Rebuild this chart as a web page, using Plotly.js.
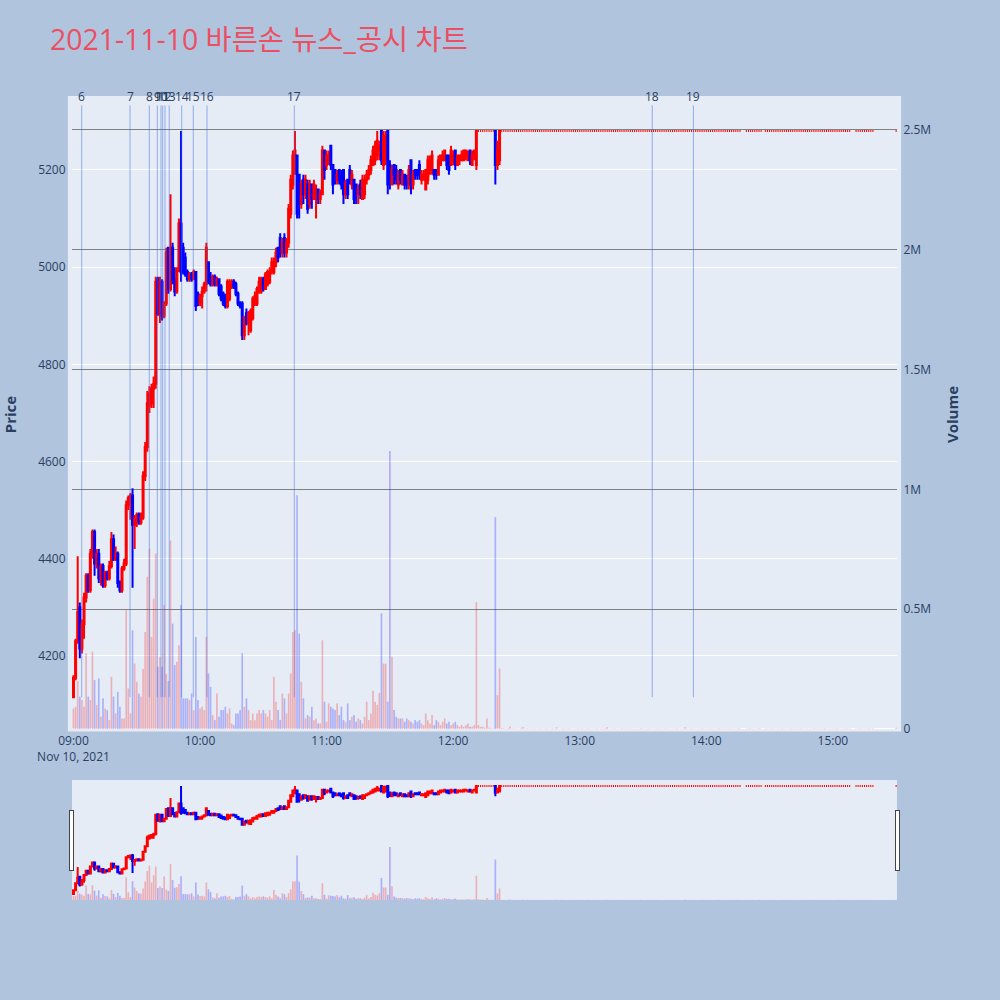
<!DOCTYPE html>
<html>
<head>
<meta charset="utf-8">
<script src="https://cdn.plot.ly/plotly-3.0.1.min.js"></script>
<style>html,body{margin:0;padding:0;background:#B0C4DE;}</style>
</head>
<body>
<div id="chart" style="width:1000px;height:1000px;"></div>
<script>
// ---------------- data ----------------
const tradeDate = '2021-11-10';
const chartTitle = '2021-11-10 바른손 뉴스_공시 차트';

// minute candles (HH:MM) with price movement
const minuteTimes = [
'09:00','09:01','09:02','09:03','09:04','09:05','09:06','09:07','09:08','09:09',
'09:10','09:11','09:12','09:13','09:14','09:15','09:16','09:17','09:18','09:19',
'09:20','09:21','09:22','09:23','09:24','09:25','09:26','09:27','09:28','09:29',
'09:30','09:31','09:32','09:33','09:34','09:35','09:36','09:37','09:38','09:39',
'09:40','09:41','09:42','09:43','09:44','09:45','09:46','09:47','09:48','09:49',
'09:50','09:51','09:52','09:53','09:54','09:55','09:56','09:57','09:58','09:59',
'10:00','10:01','10:02','10:03','10:04','10:05','10:06','10:07','10:08','10:09',
'10:10','10:11','10:12','10:13','10:14','10:15','10:16','10:17','10:18','10:19',
'10:20','10:21','10:22','10:23','10:24','10:25','10:26','10:27','10:28','10:29',
'10:30','10:31','10:32','10:33','10:34','10:35','10:36','10:37','10:38','10:39',
'10:40','10:41','10:42','10:43','10:44','10:45','10:46','10:47','10:48','10:49',
'10:50','10:51','10:52','10:53','10:54','10:55','10:56','10:57','10:58','10:59',
'11:00','11:01','11:02','11:03','11:04','11:05','11:06','11:07','11:08','11:09',
'11:10','11:11','11:12','11:13','11:14','11:15','11:16','11:17','11:18','11:19',
'11:20','11:21','11:22','11:23','11:24','11:25','11:26','11:27','11:28','11:29',
'11:30','11:31','11:32','11:33','11:34','11:35','11:36','11:37','11:38','11:39',
'11:40','11:41','11:42','11:43','11:44','11:45','11:46','11:47','11:48','11:49',
'11:50','11:51','11:52','11:53','11:54','11:55','11:56','11:57','11:58','11:59',
'12:00','12:01','12:02','12:03','12:04','12:05','12:06','12:07','12:08','12:09',
'12:10','12:11','12:20','12:21','12:22'
];
const openPrices = [
4115,4155,4230,4300,4215,4265,4320,4365,4335,4410,
4455,4390,4410,4360,4385,4345,4370,4360,4385,4440,
4400,4410,4350,4335,4380,4390,4510,4520,4530,4470,
4480,4490,4475,4485,4570,4630,4715,4720,4750,4760,
4975,4905,4970,4900,4925,5040,4955,5040,4975,4950,
4995,5090,5040,5020,4990,4975,4985,4975,4990,4945,
4925,4940,4950,4965,5010,4980,4965,4980,4965,4975,
4960,4945,4940,4920,4935,4960,4970,4965,4945,4925,
4925,4860,4905,4885,4870,4895,4925,4925,4950,4950,
4975,4955,4965,4970,4990,4990,5010,5040,5060,5030,
5060,5030,5050,5110,5170,5200,5230,5190,5130,5180,
5150,5170,5130,5170,5140,5140,5160,5140,5150,5240,
5210,5220,5250,5210,5200,5180,5200,5190,5200,5150,
5180,5200,5170,5180,5170,5150,5170,5140,5150,5180,
5190,5200,5210,5220,5230,5240,5280,5210,5220,5280,
5210,5170,5210,5200,5170,5200,5170,5190,5180,5170,
5220,5170,5200,5200,5210,5180,5180,5160,5180,5200,
5200,5200,5200,5190,5210,5220,5220,5230,5230,5210,
5220,5240,5210,5220,5220,5220,5230,5220,5240,5210,
5230,5210,5280,5210,5220
];
const highPrices = [
4160,4235,4405,4310,4275,4330,4370,4370,4420,4460,
4460,4420,4420,4390,4390,4375,4375,4395,4455,4450,
4425,4415,4355,4385,4400,4520,4530,4535,4545,4490,
4495,4495,4495,4580,4640,4745,4755,4760,4775,4980,
4980,4980,4975,4930,5040,5040,5150,5050,5000,5000,
5100,5280,5050,5030,4995,4990,4990,4995,4990,4950,
4945,4960,4970,5050,5010,4990,4985,4985,4980,4975,
4965,4950,4945,4975,4975,4975,4975,4970,4950,4930,
4930,4900,4915,4910,4915,4940,4950,4960,4980,4980,
4980,4990,4995,5000,5020,5020,5040,5040,5070,5060,
5070,5060,5130,5190,5240,5280,5230,5190,5180,5190,
5190,5180,5180,5170,5180,5170,5160,5160,5250,5240,
5240,5240,5250,5210,5200,5200,5200,5200,5200,5180,
5180,5210,5200,5180,5170,5170,5180,5190,5190,5200,
5210,5230,5250,5260,5280,5260,5280,5280,5280,5280,
5220,5210,5210,5210,5200,5200,5200,5190,5190,5210,
5220,5200,5200,5200,5220,5200,5200,5200,5230,5230,
5240,5200,5200,5230,5230,5240,5240,5230,5230,5250,
5240,5240,5230,5230,5240,5240,5240,5240,5240,5240,
5240,5280,5280,5260,5280
];
const lowPrices = [
4115,4150,4225,4195,4205,4235,4310,4330,4330,4400,
4365,4380,4350,4345,4340,4340,4355,4355,4380,4395,
4395,4340,4330,4330,4375,4385,4500,4480,4340,4420,
4465,4470,4470,4480,4560,4620,4700,4710,4710,4750,
4900,4885,4890,4895,4920,4945,4950,4965,4940,4945,
4990,4970,4985,4980,4970,4970,4970,4975,4910,4920,
4920,4915,4945,4950,4965,4960,4960,4960,4960,4940,
4930,4920,4915,4915,4930,4955,4955,4940,4920,4915,
4850,4850,4880,4860,4865,4890,4920,4920,4945,4945,
4950,4955,4960,4965,4985,4985,5000,5010,5020,5020,
5020,5020,5040,5100,5160,5190,5100,5100,5120,5130,
5140,5110,5120,5120,5140,5100,5130,5130,5150,5180,
5200,5210,5200,5150,5170,5170,5170,5160,5130,5140,
5140,5170,5160,5130,5130,5130,5140,5140,5140,5170,
5180,5190,5210,5210,5220,5220,5210,5200,5210,5150,
5160,5170,5170,5170,5160,5170,5170,5160,5160,5160,
5150,5160,5180,5180,5180,5170,5180,5160,5170,5190,
5190,5180,5180,5190,5210,5220,5220,5200,5190,5210,
5210,5200,5210,5210,5220,5220,5220,5220,5210,5210,
5220,5200,5170,5200,5210
];
const closePrices = [
4155,4230,4290,4215,4265,4320,4365,4335,4410,4455,
4390,4410,4360,4385,4345,4370,4360,4385,4440,4400,
4410,4350,4335,4380,4390,4510,4525,4530,4470,4480,
4490,4475,4485,4570,4630,4720,4740,4750,4760,4970,
4905,4970,4900,4925,5030,4955,5040,4975,4950,4995,
5090,4990,4990,4985,4975,4985,4975,4990,4920,4925,
4940,4950,4965,5040,4970,4965,4980,4965,4975,4945,
4935,4925,4920,4970,4965,4970,4960,4945,4925,4920,
4860,4895,4885,4905,4910,4935,4940,4955,4970,4975,
4955,4985,4990,4990,5010,5010,5030,5020,5030,5050,
5030,5050,5120,5180,5230,5240,5110,5130,5170,5150,
5180,5120,5170,5140,5170,5160,5140,5150,5240,5200,
5230,5230,5210,5170,5180,5190,5180,5170,5150,5170,
5150,5180,5190,5140,5150,5160,5150,5180,5180,5190,
5200,5220,5240,5250,5260,5250,5220,5270,5270,5170,
5180,5200,5190,5180,5190,5180,5190,5170,5170,5200,
5170,5190,5190,5190,5190,5190,5190,5200,5220,5220,
5230,5190,5190,5220,5230,5230,5240,5210,5200,5240,
5230,5210,5230,5230,5230,5240,5240,5230,5220,5230,
5240,5280,5210,5240,5280
];
// volume in thousand shares
const volumeK = [
86,93,200,135,121,93,316,135,121,323,
204,100,211,51,128,86,79,37,218,135,
65,155,93,44,44,496,169,65,412,273,
197,148,135,250,405,635,753,384,544,732,
260,300,260,517,230,200,787,440,267,281,
350,517,128,128,128,121,148,79,384,121,
86,93,79,384,232,176,58,37,148,51,
79,79,93,65,86,23,16,65,65,79,
316,93,128,79,37,65,37,65,79,65,
79,65,51,79,37,218,114,79,37,148,
128,65,148,232,405,412,975,398,197,128,
44,58,51,93,37,44,23,23,370,114,
30,107,93,86,79,107,58,93,37,30,
107,37,51,58,30,44,37,23,51,114,
37,65,160,114,100,150,482,273,273,114,
1160,302,79,51,44,44,44,30,44,37,
30,23,37,30,37,23,16,65,37,23,
58,16,37,30,16,30,44,23,30,16,
23,30,16,9,16,9,16,23,9,9,
16,530,884,142,253
];

// minutes traded flat at the upper limit price
const upperLimit = 5280;
const limitTimes = [
'12:12','12:13','12:14','12:15','12:16','12:17','12:18','12:19',
'12:23','12:24','12:25','12:26','12:27','12:28','12:29','12:30','12:31','12:32',
'12:33','12:34','12:35','12:36','12:37','12:38','12:39','12:40','12:41','12:42',
'12:43','12:44','12:45','12:46','12:47','12:48','12:49','12:50','12:51','12:52',
'12:53','12:54','12:55','12:56','12:57','12:58','12:59',
'13:00','13:01','13:02','13:03','13:04','13:05','13:06','13:07','13:08','13:09',
'13:10','13:11','13:12','13:13','13:14','13:15','13:16','13:17','13:18','13:19',
'13:20','13:21','13:22','13:23','13:24','13:25','13:26','13:27','13:28','13:29',
'13:30','13:31','13:32','13:33','13:34','13:35','13:36','13:37','13:38','13:39',
'13:40','13:41','13:42','13:43','13:44','13:45','13:46','13:47','13:48','13:49',
'13:50','13:51','13:52','13:53','13:54','13:55','13:56','13:57','13:58','13:59',
'14:00','14:01','14:02','14:03','14:04','14:05','14:06','14:07','14:08','14:09',
'14:10','14:11','14:12','14:13','14:14','14:15','14:16',
'14:19','14:20','14:21','14:22','14:23','14:24','14:25','14:26',
'14:28','14:29','14:30','14:31','14:32','14:33','14:34','14:35','14:36','14:37','14:38','14:39',
'14:40','14:41','14:42','14:43','14:44','14:45','14:46','14:47','14:48','14:49',
'14:50','14:51','14:52','14:53','14:54','14:55','14:56','14:57','14:58','14:59',
'15:00','15:01','15:02','15:03','15:04','15:05','15:06','15:07','15:08',
'15:11','15:12','15:13','15:14','15:15','15:16','15:17','15:18','15:19',
'15:30'
];
const limitVolumeK = [
16,9,9,5,44,5,3,3,
4,3,2,3,9,2,3,2,2,3,
8,2,3,2,2,3,2,2,3,2,
2,3,2,2,3,2,7,2,2,3,
2,2,3,2,2,2,3,
2,3,2,2,3,2,2,2,3,2,
2,2,3,7,2,2,3,2,2,2,
3,2,2,2,3,2,2,2,2,3,
2,2,2,3,2,2,2,3,2,2,
2,3,2,2,2,2,3,2,2,2,
8,2,2,3,2,2,2,2,3,2,
2,2,3,2,2,2,3,2,2,2,
2,3,2,2,2,3,2,
2,2,3,2,2,2,3,2,
2,2,2,3,2,2,2,2,3,2,2,2,
3,2,2,2,2,3,2,2,2,2,
2,3,2,2,2,2,3,2,2,2,
2,2,3,2,2,2,3,2,2,
2,2,3,2,2,2,3,2,2,
5
];

// news / disclosure markers
const newsTimes = ['09:03:54','09:26:48','09:35:57','09:39:45','09:41:30','09:42:18','09:43:24',
                   '09:45:24','09:51:18','09:56:48','10:03:18','10:44:42','13:34:24','13:53:54'];
const newsLabels = ['6','7','8','9','10','11','12','13','14','15','16','17','18','19'];

// ---------------- build ----------------
const ts = t => tradeDate + ' ' + t;
const xAll = minuteTimes.concat(limitTimes).map(ts);
const oAll = openPrices.concat(limitTimes.map(() => upperLimit));
const hAll = highPrices.concat(limitTimes.map(() => upperLimit));
const lAll = lowPrices.concat(limitTimes.map(() => upperLimit));
const cAll = closePrices.concat(limitTimes.map(() => upperLimit));
const vAll = volumeK.concat(limitVolumeK).map(v => v * 1000);
const vColors = oAll.map((o, i) => cAll[i] >= o ? 'rgba(255,0,0,0.25)' : 'rgba(0,0,255,0.25)');

const minLow = Math.min(...lAll);
const maxHigh = Math.max(...hAll);
const lineTop = maxHigh * 1.01;

const volumeTrace = {
  type: 'bar', x: xAll, y: vAll, yaxis: 'y2', name: 'Volume',
  marker: {color: vColors}, showlegend: false, hoverinfo: 'x+y'
};
const candleTrace = {
  type: 'candlestick', x: xAll, open: oAll, high: hAll, low: lAll, close: cAll,
  name: 'Price', yaxis: 'y', showlegend: false,
  increasing: {line: {color: 'red', width: 2}, fillcolor: 'red'},
  decreasing: {line: {color: 'blue', width: 2}, fillcolor: 'blue'}
};

const bg = '#E5ECF6';
const shapes = [{
  type: 'rect', xref: 'paper', yref: 'paper', x0: -0.005, x1: 1.005, y0: -0.004, y1: 1.0064,
  fillcolor: bg, line: {width: 0}, layer: 'below'
}];
const annotations = [];
newsTimes.forEach((t, i) => {
  shapes.push({type: 'line', xref: 'x', yref: 'y', x0: ts(t), x1: ts(t), y0: minLow, y1: lineTop,
               line: {color: 'rgba(65,105,225,0.5)', width: 1}});
  annotations.push({x: ts(t), y: lineTop, xref: 'x', yref: 'y', text: newsLabels[i], showarrow: false,
                    yanchor: 'bottom', xanchor: 'center', yshift: -2, font: {size: 12, color: '#2a3f5f'}});
});

const xRange = [ts('08:59:18'), ts('15:30:25')];
const layout = {
  width: 1000, height: 1000,
  paper_bgcolor: '#B0C4DE', plot_bgcolor: bg,
  font: {family: '"Open Sans", verdana, arial, sans-serif', size: 12, color: '#2a3f5f'},
  title: {text: chartTitle, x: 0.05, xanchor: 'left', y: 0.96, yanchor: 'middle',
          font: {size: 28.4, color: '#EC4F62', family: '"Open Sans", "Noto Sans CJK KR", sans-serif'}},
  margin: {l: 72, r: 103, t: 100, b: 100},
  showlegend: false,
  bargap: 0.2,
  xaxis: {type: 'date', range: xRange, showgrid: false, zeroline: false, dtick: 3600000,
          showline: true, linewidth: 2, linecolor: bg, mirror: true,
          rangeslider: {visible: true, range: xRange, thickness: 0.15}},
  yaxis: {range: [4049.5, 5344], gridcolor: 'white', zeroline: false, side: 'left',
          showline: true, linewidth: 4, linecolor: bg, mirror: true,
          title: {text: 'Price', standoff: 28, font: {size: 15, weight: 'bold'}}},
  yaxis2: {overlaying: 'y', side: 'right', range: [0, 2625000], gridcolor: 'gray', gridwidth: 1,
           showline: true, linewidth: 4, linecolor: bg,
           zeroline: true, zerolinecolor: 'white', zerolinewidth: 2,
           title: {text: 'Volume', standoff: 18, font: {size: 15, weight: 'bold'}}},
  shapes: shapes,
  annotations: annotations
};

Plotly.newPlot('chart', [volumeTrace, candleTrace], layout, {displayModeBar: false, responsive: false});
</script>
</body>
</html>
